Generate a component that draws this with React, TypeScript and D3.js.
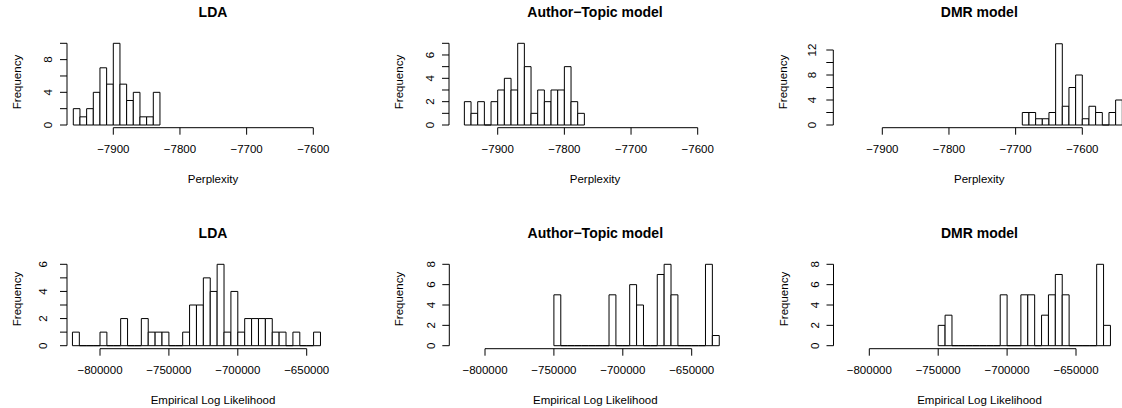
import React, { useEffect, useRef } from "react";
import * as d3 from "d3";

// histogram counts
const perpLdaCounts = [2, 1, 2, 4, 7, 5, 10, 5, 3, 4, 1, 1, 4];
const perpAtmCounts = [2, 1, 2, 0, 2, 3, 4, 3, 7, 5, 1, 3, 2, 3, 3, 5, 2, 1];
const perpDmrCounts = [2, 2, 1, 1, 2, 13, 3, 6, 8, 1, 3, 2, 0, 2, 4];
const llLdaCounts = [1, 0, 0, 0, 1, 0, 0, 2, 0, 0, 2, 1, 1, 1, 0, 0, 1, 3, 3, 5, 4, 6, 1, 4, 1, 2, 2, 2, 2, 1, 1, 0, 1, 0, 0, 1];
const llAtmCounts = [5, 0, 0, 0, 0, 0, 0, 0, 5, 0, 0, 6, 4, 0, 0, 7, 8, 5, 0, 0, 0, 0, 8, 1];
const llDmrCounts = [2, 3, 0, 0, 0, 0, 0, 0, 0, 5, 0, 0, 5, 5, 0, 3, 5, 7, 5, 0, 0, 0, 0, 8, 2];

// first break of each histogram
const binStarts = [-7960, -7950, -7690, -820000, -750000, -750000];
const perpBinWidth = 10;
const llBinWidth = 5000;

const perpTicks = [-7900, -7800, -7700, -7600];
const llTicks = [-800000, -750000, -700000, -650000];

const titles = ["LDA", "Author\u2212Topic model", "DMR model"];
const xLabels = ["Perplexity", "Empirical Log Likelihood"];

const yTicks = [
  [0, 2, 4, 6, 8, 10],
  [0, 1, 2, 3, 4, 5, 6, 7],
  [0, 2, 4, 6, 8, 10, 12],
  [0, 1, 2, 3, 4, 5, 6],
  [0, 2, 4, 6, 8],
  [0, 2, 4, 6, 8],
];
const yLabels = [
  [0, 4, 8],
  [0, 2, 4, 6],
  [0, 4, 8, 12],
  [0, 2, 4, 6],
  [0, 2, 4, 6, 8],
  [0, 2, 4, 6, 8],
];

// pixel layout of each panel
const layout = [
  { ax: 67, x0: 113.3, x1: 313.3, yBase: 125, yMax: 10, yMaxPx: 43.3, axisY: 127.7, labOff: 19, row: 0 },
  { ax: 449, x0: 497.7, x1: 697.7, yBase: 125, yMax: 7, yMaxPx: 43.3, axisY: 127.7, labOff: 19, row: 0 },
  { ax: 833.3, x0: 882.3, x1: 1082.3, yBase: 125, yMax: 12, yMaxPx: 50, axisY: 127.7, labOff: 21, row: 0 },
  { ax: 67, x0: 100, x1: 306.7, yBase: 345.7, yMax: 6, yMaxPx: 264.3, axisY: 348.7, labOff: 24, row: 1 },
  { ax: 449.3, x0: 485, x1: 691.7, yBase: 345.7, yMax: 8, yMaxPx: 264.3, axisY: 348.7, labOff: 18.5, row: 1 },
  { ax: 833.5, x0: 869.3, x1: 1076, yBase: 345.7, yMax: 8, yMaxPx: 264.3, axisY: 348.7, labOff: 19, row: 1 },
];

const font = "'Liberation Sans', Arial, Helvetica, sans-serif";
const fmt = (v: number) => String(v).replace("-", "\u2212");

const App = () => {
  const svgRef = useRef<SVGSVGElement>(null);

  useEffect(() => {
    const svg = d3.select(svgRef.current);
    svg.selectAll("*").remove();

    const counts = [perpLdaCounts, perpAtmCounts, perpDmrCounts, llLdaCounts, llAtmCounts, llDmrCounts];

    counts.forEach((c, i) => {
      const L = layout[i];
      const perp = L.row === 0;
      const ticks = perp ? perpTicks : llTicks;
      const bw = perp ? perpBinWidth : llBinWidth;

      const x = d3.scaleLinear().domain([ticks[0], ticks[ticks.length - 1]]).range([L.x0, L.x1]);
      const y = d3.scaleLinear().domain([0, L.yMax]).range([L.yBase, L.yMaxPx]);

      const g = svg.append("g");
      const cx = L.ax + 146;

      // bars (zero bins come out as a flat line, like R's rect)
      g.selectAll("path.bar")
        .data(c)
        .enter()
        .append("path")
        .attr("d", (d, k) => {
          const a = x(binStarts[i] + k * bw);
          const b = x(binStarts[i] + (k + 1) * bw);
          return `M${a},${y(0)}V${y(d)}H${b}V${y(0)}Z`;
        })
        .attr("fill", "white")
        .attr("stroke", "black")
        .attr("stroke-width", 1);

      // x axis
      g.append("line")
        .attr("x1", x(ticks[0]))
        .attr("x2", x(ticks[ticks.length - 1]))
        .attr("y1", L.axisY)
        .attr("y2", L.axisY)
        .attr("stroke", "black");
      ticks.forEach((t) => {
        g.append("line")
          .attr("x1", x(t))
          .attr("x2", x(t))
          .attr("y1", L.axisY)
          .attr("y2", L.axisY + 7)
          .attr("stroke", "black");
        g.append("text")
          .attr("x", x(t))
          .attr("y", L.axisY + 25)
          .attr("text-anchor", "middle")
          .attr("font-family", font)
          .attr("font-size", 11.5)
          .text(fmt(t));
      });

      // y axis
      const yt = yTicks[i];
      g.append("line")
        .attr("x1", L.ax)
        .attr("x2", L.ax)
        .attr("y1", y(yt[0]))
        .attr("y2", y(yt[yt.length - 1]))
        .attr("stroke", "black");
      yt.forEach((t) => {
        g.append("line")
          .attr("x1", L.ax - 7)
          .attr("x2", L.ax)
          .attr("y1", y(t))
          .attr("y2", y(t))
          .attr("stroke", "black");
      });
      yLabels[i].forEach((t) => {
        g.append("text")
          .attr("transform", `translate(${L.ax - L.labOff},${y(t)}) rotate(-90)`)
          .attr("text-anchor", "middle")
          .attr("dominant-baseline", "central")
          .attr("font-family", font)
          .attr("font-size", 11.5)
          .text(String(t));
      });

      // titles and labels
      g.append("text")
        .attr("x", cx)
        .attr("y", L.row === 0 ? 16.5 : 237.5)
        .attr("text-anchor", "middle")
        .attr("font-family", font)
        .attr("font-weight", "bold")
        .attr("font-size", 14)
        .text(titles[i % 3]);

      g.append("text")
        .attr("x", cx)
        .attr("y", L.axisY + 55.5)
        .attr("text-anchor", "middle")
        .attr("font-family", font)
        .attr("font-size", 11.5)
        .text(xLabels[L.row]);

      g.append("text")
        .attr("transform", `translate(${L.ax - 50},${L.row === 0 ? 82 : 299}) rotate(-90)`)
        .attr("text-anchor", "middle")
        .attr("dominant-baseline", "central")
        .attr("font-family", font)
        .attr("font-size", 11.5)
        .text("Frequency");
    });
  }, []);

  return (
    <svg
      ref={svgRef}
      width={1122}
      height={408}
      style={{ position: "absolute", left: 0, top: 0, background: "white" }}
    />
  );
};

export default App;
